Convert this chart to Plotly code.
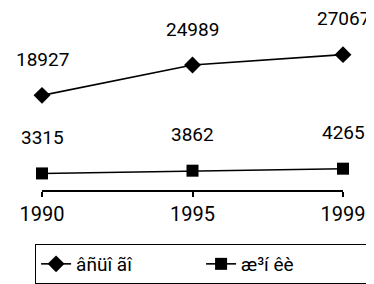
import plotly.graph_objects as go

years = ["1990", "1995", "1999"]
series_a_name = "âñüî ãî"
series_a = [18927, 24989, 27067]
series_b_name = "æ³í êè"
series_b = [3315, 3862, 4265]

FONT = "Roboto"

fig = go.Figure()
fig.add_trace(go.Scatter(x=years, y=series_a, name=series_a_name, mode="lines+markers",
                         cliponaxis=False,
                         line=dict(color="black", width=1.6),
                         marker=dict(symbol="diamond", size=13, color="black")))
fig.add_trace(go.Scatter(x=years, y=series_b, name=series_b_name, mode="lines+markers",
                         cliponaxis=False,
                         line=dict(color="black", width=1.6),
                         marker=dict(symbol="square", size=12, color="black")))

for ys in (series_a, series_b):
    for i, y in enumerate(ys):
        fig.add_annotation(x=i, y=y, xref="x", yref="y", text=str(y), showarrow=False,
                           yshift=36, font=dict(family=FONT, size=19, color="black"))

fig.update_layout(
    width=366, height=276,
    margin=dict(l=34, r=31, t=32, b=94, autoexpand=False),
    paper_bgcolor="white", plot_bgcolor="white",
    font=dict(family=FONT, size=20, color="black"),
    showlegend=True,
    legend=dict(orientation="h", x=-0.023, xanchor="left",
                y=-0.36, yanchor="top",
                bordercolor="black", borderwidth=1, entrywidth=120, entrywidthmode="pixels",
                font=dict(family=FONT, size=19, color="black")),
    xaxis=dict(type="category", range=[0, 2], showline=True, linecolor="black", linewidth=1.5,
               ticks="outside", ticklen=5, tickcolor="black", tickwidth=1.5, automargin=False,
               showgrid=False, zeroline=False, tickfont=dict(family=FONT, size=20)),
    xaxis2=dict(overlaying="x", type="linear", range=[0, 2], tickvals=[0, 1, 2],
                ticks="inside", ticklen=7, tickcolor="black", tickwidth=1.5, automargin=False,
                showticklabels=False, showgrid=False, zeroline=False, showline=False,
                anchor="y", side="bottom"),
    yaxis=dict(range=[0, 30000], visible=False, showgrid=False, zeroline=False, automargin=False),
)

fig.write_html("out.html")
